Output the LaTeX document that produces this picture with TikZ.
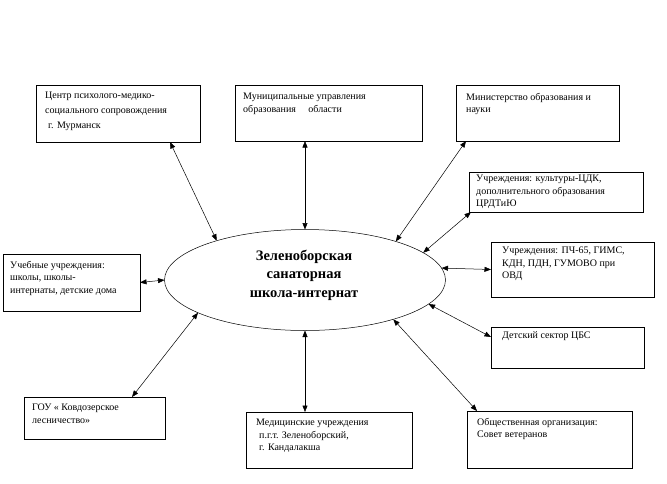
\documentclass[tikz,border=0pt]{standalone}
\usepackage{fontspec}
\setmainfont{Liberation Serif}
\usetikzlibrary{arrows.meta,shapes.geometric}
\begin{document}
\begin{tikzpicture}[x=1pt,y=-1pt,
  box/.style={draw, line width=0.7pt, rectangle, inner sep=0pt, outer sep=0pt, anchor=north west},
  txt/.style={anchor=north west, inner sep=0pt, align=left, font=\fontsize{10}{12.5}\selectfont},
  link/.style={line width=0.5pt, {Triangle[length=6.5pt,width=5pt]}-{Triangle[length=6.5pt,width=5pt]}}]
\useasboundingbox (0,0) rectangle (667,483);
% boxes
\node[box, minimum width=164pt, minimum height=57pt] (b1) at (36,85) {};
\node[box, minimum width=187pt, minimum height=56pt] (b2) at (235,85) {};
\node[box, minimum width=163pt, minimum height=56pt] (b3) at (456,85) {};
\node[box, minimum width=174pt, minimum height=40pt] (b4) at (469,172) {};
\node[box, minimum width=163pt, minimum height=55pt] (b5) at (491,242) {};
\node[box, minimum width=153pt, minimum height=41pt] (b6) at (491,327) {};
\node[box, minimum width=137pt, minimum height=57pt] (b7) at (3,254) {};
\node[box, minimum width=141pt, minimum height=42pt] (b8) at (24,397) {};
\node[box, minimum width=166pt, minimum height=56pt] (b9) at (246,412) {};
\node[box, minimum width=165pt, minimum height=57pt] (b10) at (467,411) {};
% ellipse
\node[draw, ellipse, line width=0.5pt, minimum width=281pt, minimum height=101pt, inner sep=0pt, outer sep=0pt] (ell) at (305,280) {};
\node[align=center, inner sep=0pt, font=\fontsize{14.5}{18.5}\selectfont\bfseries] (title) at (304,275) {Зеленоборская\\ санаторная\\школа-интернат};
% texts
\node[txt, font=\fontsize{10}{15}\selectfont] (t1) at (45,92) {Центр психолого-медико-\\социального сопровождения\\\hspace{3pt}г. Мурманск};
\node[txt] (t2) at (243,93) {Муниципальные управления\\образования\ \ \ \ \ области};
\node[txt] (t3) at (466,93) {Министерство образования и\\науки};
\node[txt] (t4) at (476,175) {Учреждения: культуры-ЦДК,\\дополнительного образования\\ЦРДТиЮ};
\node[txt] (t5) at (502,247) {Учреждения: ПЧ-65, ГИМС,\\КДН, ПДН, ГУМОВО при\\ОВД};
\node[txt] (t6) at (502,331) {Детский сектор ЦБС};
\node[txt] (t7) at (10,261) {Учебные учреждения:\\школы, школы-\\интернаты, детские дома};
\node[txt] (t8) at (32,404) {ГОУ « Ковдозерское\\лесничество»};
\node[txt] (t9) at (256,419) {Медицинские учреждения\\\hspace{3pt}п.г.т. Зеленоборский,\\\hspace{3pt}г. Кандалакша};
\node[txt] (t10) at (477,418) {Общественная организация:\\Совет ветеранов};
% connectors
\draw[link] ([xshift=134pt]b1.south west) -- (ell.156);
\draw[link] ([xshift=70pt]b2.south west) -- (ell.north);
\draw[link] ([xshift=10pt]b3.south west) -- (ell.23);
\draw[link] ([xshift=2pt]b4.south west) -- (ell.13);
\draw[link] (b5.west) -- (ell.5);
\draw[link] ([yshift=-10pt]b6.north west) -- (ell.-11);
\draw[link] (b7.east) -- (ell.west);
\draw[link] ([xshift=108pt]b8.north west) -- (ell.197);
\draw[link] ([xshift=59pt]b9.north west) -- (ell.south);
\draw[link] ([xshift=10pt]b10.north west) -- (ell.-24);
\end{tikzpicture}
\end{document}
